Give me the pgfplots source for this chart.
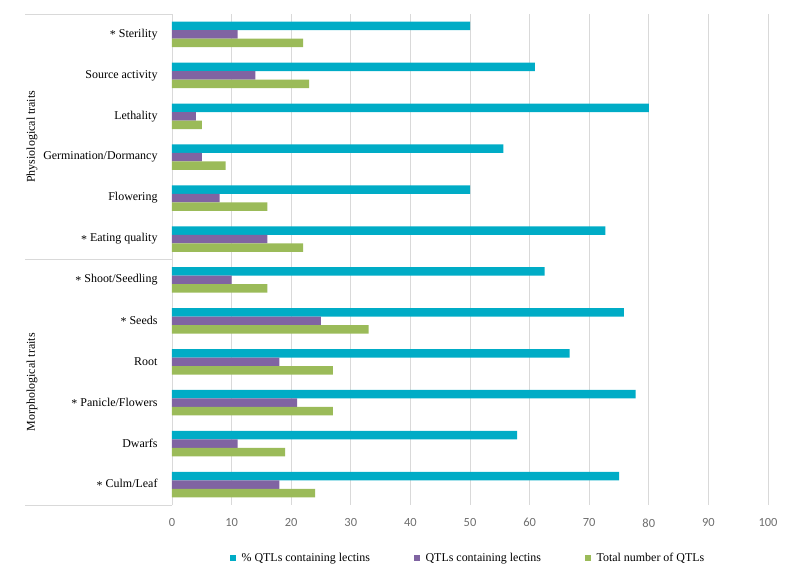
\documentclass[border=0pt]{standalone}
\usepackage{fontspec}
\setmainfont{Liberation Serif}
\newfontfamily\carlito{Carlito}
\usepackage{pgfplots}
\pgfplotsset{compat=1.18}
\definecolor{cCyan}{RGB}{0,172,198}
\definecolor{cPurple}{RGB}{128,100,162}
\definecolor{cGreen}{RGB}{155,187,89}
\definecolor{gridc}{RGB}{217,217,217}
\definecolor{tickc}{RGB}{110,110,110}
\newcommand{\sig}{\raisebox{-0.3ex}{*}}
\begin{document}
\begin{tikzpicture}
\begin{axis}[
 at={(0,0)}, anchor=south west,
 scale only axis, width=596bp, height=491bp,
 xbar, bar width=8.5bp,
 xmin=0, xmax=100, ymin=-0.5, ymax=11.5, y dir=reverse,
 xtick={0,10,...,100}, ytick={0,...,11},
 yticklabels={\sig\ Sterility, Source activity, Lethality, Germination/Dormancy, Flowering, \sig\ Eating quality, \sig\ Shoot/Seedling, \sig\ Seeds, Root, \sig\ Panicle/Flowers, Dwarfs, \sig\ Culm/Leaf},
 xmajorgrids, grid style={gridc, line width=0.75bp},
 axis line style={draw=none},
 major tick length=0pt,
 yticklabel style={font=\fontsize{12}{14}\selectfont, xshift=-11bp},
 xticklabel style={font=\carlito\fontsize{12.5}{14}\selectfont, text=tickc, yshift=-10bp},
 /pgf/number format/assume math mode=true,
 legend columns=3,
 legend style={at={(0.497,-0.108)}, anchor=center, draw=none, font=\fontsize{12}{14}\selectfont,
   /tikz/every odd column/.append style={column sep=4bp},
   /tikz/every even column/.append style={column sep=42bp}},
 legend image code/.code={\fill[#1] (0bp,-2.7bp) rectangle (5.5bp,2.7bp);},
 clip=false,
]
\addplot[fill=cCyan, draw=none, bar shift=8.5bp] coordinates {(50,0) (60.9,1) (80,2) (55.6,3) (50,4) (72.7,5) (62.5,6) (75.8,7) (66.7,8) (77.8,9) (57.9,10) (75,11)};
\addplot[fill=cPurple, draw=none, bar shift=0bp] coordinates {(11,0) (14,1) (4,2) (5,3) (8,4) (16,5) (10,6) (25,7) (18,8) (21,9) (11,10) (18,11)};
\addplot[fill=cGreen, draw=none, bar shift=-8.5bp] coordinates {(22,0) (23,1) (5,2) (9,3) (16,4) (22,5) (16,6) (33,7) (27,8) (27,9) (19,10) (24,11)};
\legend{\% QTLs containing lectins, QTLs containing lectins, Total number of QTLs}
\draw[gridc, line width=0.75bp] (axis cs:0,-0.5) -- ++(-147bp,0bp);
\draw[gridc, line width=0.75bp] (axis cs:0,5.5) -- ++(-147bp,0bp);
\draw[gridc, line width=0.75bp] (axis cs:0,11.5) -- ++(-147bp,0bp);
\node[rotate=90, font=\fontsize{12}{14}\selectfont] at ([xshift=-140bp]axis cs:0,2.5) {Physiological traits};
\node[rotate=90, font=\fontsize{12}{14}\selectfont] at ([xshift=-140bp]axis cs:0,8.5) {Morphological traits};
\end{axis}
\pgfresetboundingbox
\path (-172bp,-72bp) rectangle (620bp,505bp);
\end{tikzpicture}
\end{document}
